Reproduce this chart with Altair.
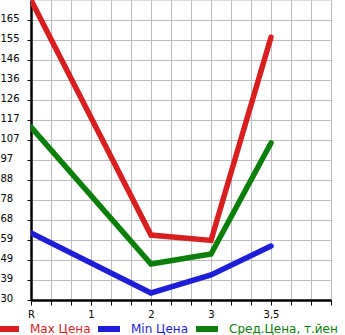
import altair as alt
import pandas as pd

categories = ["R", "1", "2", "3", "3,5"]
max_price = [175, None, 61.4, 58.8, 157]
min_price = [62.4, None, 33.4, 42.1, 56.1]
avg_price = [113.6, None, 47.4, 52.2, 105.9]

series_names = ["Max Цена", "Min Цена", "Сред.Цена, т.йен"]
series_colors = ["#d81e1e", "#1e1ed8", "#0a800a"]

rows = []
for name, vals in zip(series_names, [max_price, min_price, avg_price]):
    for i, (c, v) in enumerate(zip(categories, vals)):
        if v is None:
            continue
        rows.append({"series": name, "pos": i * 3, "cat": c, "value": v})
df = pd.DataFrame(rows)

y_ticks = [30 + k * 29 / 3 for k in range(15)]
x_ticks = list(range(16))

label_map = "{" + ",".join(f"'{i*3}':'{c}'" for i, c in enumerate(categories)) + "}"

color_expr = (
    f"datum.label == '{series_names[0]}' ? '{series_colors[0]}' : "
    f"datum.label == '{series_names[1]}' ? '{series_colors[1]}' : '{series_colors[2]}'"
)

chart = alt.Chart(df).mark_line(strokeWidth=5.5, strokeCap="round", strokeJoin="miter", clip=True).encode(
    x=alt.X("pos:Q", scale=alt.Scale(domain=[0, 15], nice=False, zero=False),
            axis=alt.Axis(values=x_ticks, title=None,
                          labelExpr=f"({label_map})[datum.value + ''] || ''",
                          tickSize=5, tickColor="black", domainColor="black", domainWidth=2.5,
                          labelFont="DejaVu Sans", labelFontSize=10, labelColor="black",
                          labelPadding=4, labelFlush=False, grid=True, gridColor="#bdbdbd", gridWidth=1)),
    y=alt.Y("value:Q", scale=alt.Scale(domain=[30, 175], nice=False, zero=False),
            axis=alt.Axis(values=y_ticks, title=None, labelExpr="floor(datum.value + 0.001)",
                          tickSize=4, tickColor="black", domainColor="black", domainWidth=2.5,
                          labelFont="DejaVu Sans", labelFontSize=10, labelColor="black",
                          labelAlign="left", labelBaseline="alphabetic", labelPadding=27,
                          labelOffset=1, labelFlush=False, grid=True, gridColor="#bdbdbd", gridWidth=1)),
    color=alt.Color("series:N", sort=series_names,
                    scale=alt.Scale(domain=series_names, range=series_colors),
                    legend=alt.Legend(title=None, orient="none", legendX=-37, legendY=315,
                                      direction="horizontal", columns=3,
                                      symbolType="stroke", symbolStrokeWidth=6, symbolSize=484,
                                      labelFont="DejaVu Sans", labelFontSize=12,
                                      labelColor=alt.ExprRef(color_expr),
                                      columnPadding=-5, labelOffset=8, labelLimit=200)),
    detail="series:N",
).properties(
    width=300, height=300,
    autosize=alt.AutoSizeParams(type="none"),
    padding={"left": 31, "top": 0, "right": 14, "bottom": 35},
).configure_view(fill="#f7f7f7", stroke=None).configure(background="white")

chart.save("out.html", embed_options={"renderer": "svg", "actions": False})
